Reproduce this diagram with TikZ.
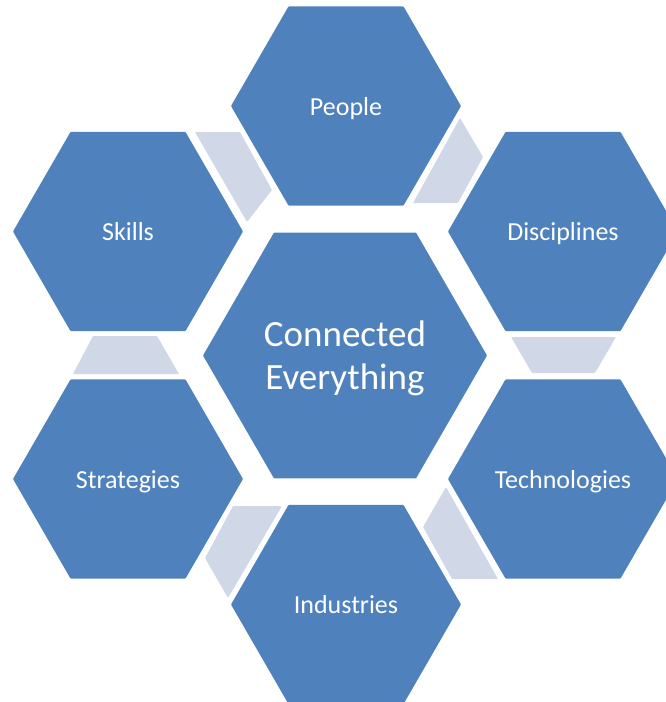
\documentclass[tikz,border=0pt]{standalone}
\usepackage{fontspec}
\setmainfont{Carlito}
\definecolor{hexblue}{HTML}{4F81BD}
\definecolor{linkfill}{HTML}{D0D8E8}
\begin{document}
\begin{tikzpicture}[x=1pt,y=-1pt,
  hexfill/.style={fill=hexblue, rounded corners=0.8pt},
  linkshape/.style={fill=linkfill, rounded corners=0.8pt},
  outerlabel/.style={text=white, font=\fontsize{26}{31}\selectfont, inner sep=0pt, text height=22pt, text depth=4pt},
  centerlabel/.style={text=white, font=\fontsize{37}{43}\selectfont, align=center, yshift=-3pt}]
\useasboundingbox (0,0) rectangle (666,702);
% hexagons
\foreach \cx/\cy/\r in {345/355.5/142, 346/106/115, 128/231.5/115, 563/231.5/115, 128/479/115, 563/479/115, 346/604.5/115}{
  \fill[hexfill] (\cx,\cy) +(0:\r) -- +(60:\r) -- +(120:\r) -- +(180:\r) -- +(240:\r) -- +(300:\r) -- cycle;
}
% link shapes between outer hexagons
\fill[linkshape] (195,132) -- (240,132) -- (272,190) -- (247,222) -- cycle;
\fill[linkshape] (460,118) -- (483,157) -- (458,203) -- (413,203) -- cycle;
\fill[linkshape] (511,337) -- (616,337) -- (595,373) -- (532,373) -- cycle;
\fill[linkshape] (93,336) -- (157,336) -- (179,374) -- (73,374) -- cycle;
\fill[linkshape] (233,506) -- (282,506) -- (228,598) -- (205,558) -- cycle;
\fill[linkshape] (446,487) -- (498,579) -- (452,579) -- (423,527) -- cycle;
% labels
\node[centerlabel] (center) at (345,355.5) {Connected\\Everything};
\node[outerlabel] (people) at (346,106) {People};
\node[outerlabel] (skills) at (128,231.5) {Skills};
\node[outerlabel] (disciplines) at (563,231.5) {Disciplines};
\node[outerlabel] (strategies) at (128,479) {Strategies};
\node[outerlabel] (technologies) at (563,479) {Technologies};
\node[outerlabel] (industries) at (346,604.5) {Industries};
\end{tikzpicture}
\end{document}
